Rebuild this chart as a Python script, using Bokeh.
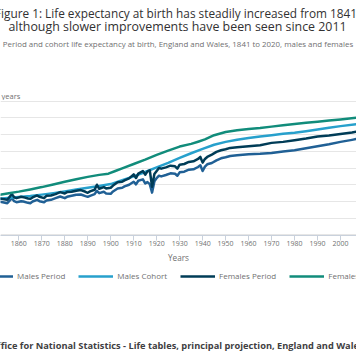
from bokeh.plotting import figure
from bokeh.layouts import column
from bokeh.models import Range1d, FixedTicker, Label, Legend, LegendItem
from bokeh.embed import file_html
from bokeh.resources import INLINE

FONT = "Open Sans"

title_line1 = "Figure 1: Life expectancy at birth has steadily increased from 1841,"
title_line2 = "although slower improvements have been seen since 2011"
subtitle = "Period and cohort life expectancy at birth, England and Wales, 1841 to 2020, males and females"
source = "Source: Office for National Statistics - Life tables, principal projection, England and Wales"
y_unit = "years"
x_title = "Years"
x_ticks = list(range(1840, 2030, 10))
y_ticks = list(range(20, 110, 10))

series_names = ["Males Period", "Males Cohort", "Females Period", "Females Cohort"]
colors = ["#206095", "#27a0cc", "#003c57", "#118c7b"]

males_period_years = [1851, 1853, 1855, 1857, 1858, 1859, 1861, 1862, 1864, 1865, 1866, 1868, 1869, 1871,
                      1872, 1874, 1876, 1878, 1880, 1881, 1883, 1885, 1887, 1889, 1890, 1891, 1893, 1894,
                      1895, 1897, 1898, 1900, 1901, 1903, 1905, 1906, 1908, 1910, 1911, 1912, 1914, 1915,
                      1916, 1917, 1918, 1919, 1920, 1921, 1922, 1924, 1926, 1928, 1929, 1930, 1932, 1934,
                      1936, 1938, 1939, 1940, 1941, 1942, 1944, 1946, 1948, 1950, 1952, 1955, 1960, 1965,
                      1970, 1975, 1980, 1985, 1990, 1995, 2000, 2005, 2008]
males_period = [40.0, 39.5, 39.0, 42.0, 40.2, 39.6, 40.2, 40.0, 39.2, 39.0, 40.0, 41.0, 40.2, 39.6,
                40.6, 41.0, 42.0, 43.0, 42.0, 42.8, 43.4, 44.0, 44.2, 43.2, 42.8, 43.4, 44.4, 46.4,
                45.0, 45.8, 44.8, 44.6, 46.0, 47.8, 48.2, 49.0, 50.0, 51.8, 50.2, 52.4, 53.2, 50.8,
                51.6, 50.4, 45.3, 52.0, 54.0, 55.4, 55.0, 55.8, 56.8, 56.6, 55.4, 57.4, 57.8, 59.0,
                59.2, 60.6, 61.6, 58.2, 60.8, 62.2, 63.0, 64.6, 65.8, 66.4, 67.2, 67.6, 68.2, 68.5,
                69.0, 69.8, 70.6, 71.8, 73.0, 74.2, 75.6, 76.8, 77.6]

males_cohort_years = [1851, 1855, 1860, 1865, 1870, 1875, 1880, 1885, 1890, 1895, 1900, 1905, 1910,
                      1915, 1920, 1925, 1930, 1935, 1940, 1945, 1950, 1955, 1960, 1965, 1970, 1975,
                      1980, 1985, 1990, 1995, 2000, 2008]
males_cohort = [41.6, 42.1, 42.7, 43.3, 44.1, 45.0, 46.0, 47.1, 48.2, 49.3, 50.4, 52.7, 55.0,
                57.6, 60.4, 63.1, 66.0, 68.8, 71.4, 73.9, 75.6, 76.9, 77.9, 78.8, 79.6, 80.4,
                81.1, 82.0, 83.0, 84.0, 85.0, 86.3]

females_period_years = [1851, 1853, 1855, 1857, 1858, 1859, 1861, 1862, 1864, 1865, 1866, 1868, 1869, 1871,
                        1872, 1874, 1876, 1878, 1880, 1881, 1883, 1885, 1887, 1889, 1890, 1891, 1893, 1894,
                        1895, 1897, 1898, 1900, 1901, 1903, 1905, 1906, 1908, 1910, 1911, 1912, 1914, 1915,
                        1916, 1917, 1918, 1919, 1920, 1921, 1922, 1924, 1926, 1928, 1929, 1930, 1932, 1934,
                        1936, 1938, 1939, 1940, 1941, 1942, 1944, 1946, 1948, 1950, 1952, 1955, 1960, 1965,
                        1970, 1975, 1980, 1985, 1990, 1995, 2000, 2005, 2008]
females_period = [42.0, 41.5, 41.0, 44.4, 42.5, 42.0, 42.8, 42.6, 41.8, 41.6, 42.4, 43.6, 42.8, 42.0,
                  43.4, 43.6, 44.4, 45.6, 44.8, 45.6, 45.8, 46.4, 46.8, 45.8, 45.2, 46.0, 47.0, 50.0,
                  47.6, 48.6, 47.8, 48.2, 49.5, 51.5, 51.8, 52.6, 53.8, 56.2, 54.0, 56.6, 58.2, 56.0,
                  58.0, 58.6, 48.8, 56.4, 58.2, 60.0, 59.6, 60.4, 61.4, 61.0, 59.6, 62.0, 62.4, 63.6,
                  64.0, 65.4, 66.6, 63.2, 65.4, 66.6, 68.0, 69.6, 70.6, 71.2, 72.0, 72.4, 73.0, 73.6,
                  75.0, 75.6, 76.6, 77.6, 78.8, 79.4, 80.3, 81.2, 82.0]

females_cohort_years = [1851, 1855, 1860, 1865, 1870, 1875, 1880, 1885, 1890, 1895, 1899, 1902, 1905,
                        1910, 1915, 1920, 1925, 1930, 1935, 1938, 1941, 1945, 1950, 1955, 1960, 1965,
                        1970, 1975, 1980, 1985, 1990, 1995, 2000, 2008]
females_cohort = [43.9, 44.8, 45.9, 47.2, 48.6, 50.2, 51.8, 53.3, 54.7, 55.9, 56.6, 58.2, 59.8,
                  62.4, 65.0, 67.8, 70.4, 72.8, 74.4, 75.7, 77.1, 79.6, 81.5, 82.5, 83.3, 83.9,
                  84.7, 85.5, 86.3, 87.0, 87.6, 88.3, 89.0, 90.2]

W = 356
HEADER_H = 100          # image rows 0..100
FRAME_H = 135           # image rows 100..235
AXIS_H = 31             # image rows 235..266
FOOTER_H = 98           # image rows 266..364


def blank(height):
    f = figure(width=W, height=height, output_backend="svg", toolbar_location=None,
               x_range=Range1d(0, 1), y_range=Range1d(0, 1),
               x_axis_location=None, y_axis_location=None, min_border=0)
    f.outline_line_color = None
    f.grid.visible = False
    f.background_fill_color = "white"
    f.border_fill_color = "white"
    return f


def lab(x, y, text, size, color, align="center", style="normal"):
    return Label(x=x, y=y, x_units="screen", y_units="screen", text=text,
                 text_align=align, text_baseline="middle", text_font=FONT,
                 text_font_size=size, text_font_style=style, text_color=color)


# ---------------- header ----------------
header = blank(HEADER_H)
for lb in [
    lab(177, HEADER_H - 12.5, title_line1, "11.8px", "#323132"),
    lab(177, HEADER_H - 25.5, title_line2, "12.4px", "#323132"),
    lab(177.5, HEADER_H - 43, subtitle, "7.9px", "#707071"),
    lab(1, HEADER_H - 95, y_unit, "7.5px", "#707071", align="left"),
]:
    header.add_layout(lb)

# ---------------- main chart ----------------
p = figure(width=W, height=FRAME_H + AXIS_H, output_backend="svg", toolbar_location=None,
           x_range=Range1d(1852.04, 2006.95), y_range=Range1d(19.7, 100.3),
           y_axis_location=None,
           min_border_left=0, min_border_right=0, min_border_top=0, min_border_bottom=AXIS_H)
p.outline_line_color = None
p.background_fill_color = "white"
p.border_fill_color = "white"

p.xgrid.visible = False
p.ygrid.ticker = FixedTicker(ticks=y_ticks)
p.ygrid.grid_line_color = "#e6e6e6"
p.ygrid.grid_line_width = 1

ax = p.xaxis[0]
ax.ticker = FixedTicker(ticks=x_ticks)
ax.axis_line_color = "#c9d1dc"
ax.major_tick_line_color = "#c9d1dc"
ax.major_tick_out = 5
ax.major_tick_in = 0
ax.minor_tick_line_color = None
ax.major_label_text_font = FONT
ax.major_label_text_font_size = "7px"
ax.major_label_text_color = "#707071"
ax.major_label_standoff = 0
ax.axis_label = x_title
ax.axis_label_text_font = FONT
ax.axis_label_text_font_size = "8.2px"
ax.axis_label_text_font_style = "normal"
ax.axis_label_text_color = "#707071"
ax.axis_label_standoff = 3

data = [
    (males_period_years, males_period),
    (males_cohort_years, males_cohort),
    (females_period_years, females_period),
    (females_cohort_years, females_cohort),
]
for (xs, ys), c in zip(data, colors):
    p.line(xs, ys, line_color=c, line_width=2.5, line_join="round")

# ---------------- footer (legend + source) ----------------
footer = blank(FOOTER_H)
# same series drawn on the footer's unit ranges (so they stay out of view) to feed the legend keys
key_renderers = [footer.line(xs, ys, line_color=c, line_width=2.5) for (xs, ys), c in zip(data, colors)]
legend = Legend(items=[LegendItem(label=n, renderers=[r]) for n, r in zip(series_names, key_renderers)],
                location=(-22, FOOTER_H - (276 - 266) - 5), orientation="horizontal",
                glyph_width=35, glyph_height=10, label_height=10, label_standoff=4,
                spacing=13, padding=0, margin=0,
                border_line_color=None, background_fill_alpha=0,
                label_text_font=FONT, label_text_font_size="8px", label_text_color="#707071")
footer.add_layout(legend)
footer.add_layout(lab(-47, FOOTER_H - (345 - 266), source, "9.25px", "#414042", align="left", style="bold"))

layout = column(header, p, footer, spacing=0)
open("out.html", "w").write(file_html(layout, INLINE))
